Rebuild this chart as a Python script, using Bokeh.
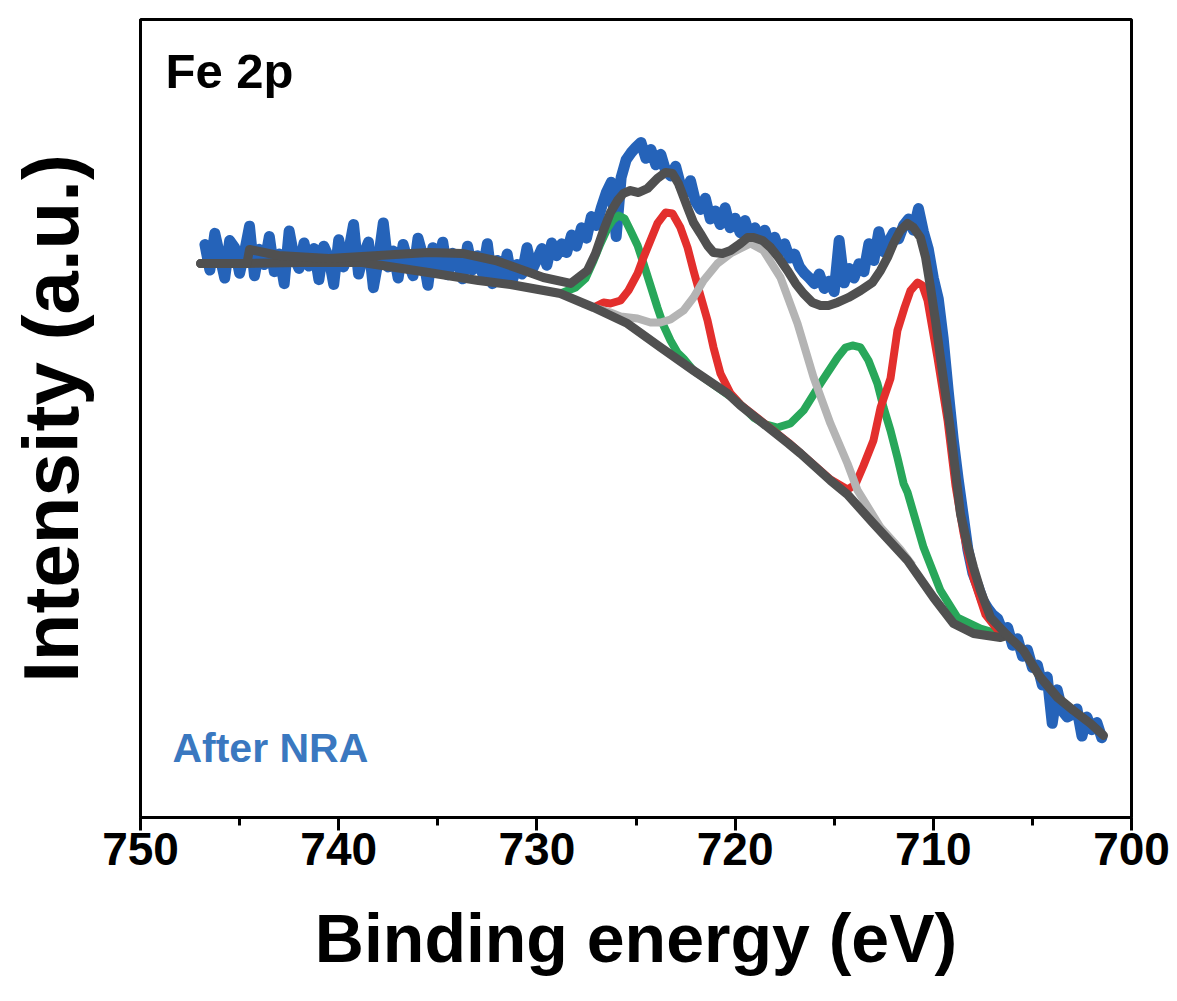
from bokeh.plotting import figure
from bokeh.models import Range1d, FixedTicker, Label
from bokeh.embed import file_html
from bokeh.resources import INLINE

# ---------------- data ----------------
# raw Fe 2p spectrum, sampled every 0.25 eV starting at 746.75 eV (descending)
raw_start = 746.75
raw_step = 0.25
raw_intensity = [
    71.8, 68.6, 73.2, 70.4,
    67.6, 72.3, 71.4, 68.2,
    70.9, 74.1, 67.9, 71.2,
    69.3, 72.8, 68.4, 70.6,
    66.9, 73.5, 70.2, 68.8,
    72.0, 69.1, 71.3, 67.4,
    71.6, 70.2, 66.8, 72.4,
    69.0, 70.9, 74.3, 68.1,
    70.5, 72.1, 66.4, 69.9,
    74.5, 69.0, 71.0, 67.6,
    71.8, 69.6, 67.9, 72.6,
    70.3, 66.7, 71.4, 69.1,
    72.1, 68.0, 70.7, 69.5,
    67.5, 71.6, 68.6, 70.4,
    68.2, 71.9, 66.9, 69.8,
    67.6, 70.6, 67.2, 69.3,
    68.1, 71.4, 68.6, 69.9,
    71.3, 69.2, 72.0, 70.4,
    71.9, 70.8, 73.0, 71.6,
    73.9, 72.6, 75.3, 74.2,
    76.4, 78.3, 79.6, 72.8,
    80.2, 82.4, 83.3, 84.0,
    84.6, 82.6, 83.7, 81.8,
    83.1, 81.0, 80.4, 81.6,
    79.2, 78.3, 79.8, 77.2,
    76.2, 77.6, 75.0, 76.0,
    74.3, 76.4, 73.9, 75.1,
    73.3, 74.8, 72.8, 73.9,
    72.3, 73.6, 71.5, 72.7,
    70.8, 71.9, 70.1, 70.6,
    69.0, 68.2, 67.6, 66.9,
    68.1, 66.3, 67.2, 65.9,
    72.3, 67.0, 68.8, 67.6,
    69.4, 68.4, 71.9, 69.8,
    73.4, 70.9, 72.2, 73.3,
    72.5, 74.2, 75.0, 73.6,
    76.3, 73.4, 71.2, 67.6,
    65.0, 60.0, 53.5, 47.5,
    42.5, 38.0, 33.5, 30.6,
    29.0, 27.2, 26.2, 25.4,
    24.9, 23.3, 23.8, 21.6,
    22.4, 20.2, 21.0, 18.8,
    19.1, 16.6, 17.6, 11.8,
    16.0, 13.4, 12.6, 12.9,
    13.6, 10.2, 12.6, 11.0,
    11.9, 10.0,
]
raw_energy = [raw_start - raw_step * i for i in range(len(raw_intensity))]

# fitted envelope
env_energy = [746.97, 744.63, 744.50, 743.04, 740.51, 737.99, 735.47, 733.75, 732.09,
              731.08, 729.67, 728.30, 727.45, 727.04, 726.64, 726.29, 725.93, 725.63,
              725.28, 724.87, 724.42, 723.92, 723.51, 723.16, 722.86, 722.40, 722.10,
              721.75, 721.39, 721.09, 720.64, 720.23, 719.73, 719.37, 719.07, 718.62,
              718.21, 717.81, 717.36, 716.95, 716.55, 716.10, 715.69, 715.29, 714.83,
              714.28, 713.67, 713.07, 712.66, 712.31, 712.01, 711.66, 711.30, 711.00,
              710.65, 710.39, 710.14, 709.89, 709.64, 709.13, 708.63, 708.27, 707.97,
              707.62, 707.11, 706.26, 705.45, 704.59, 703.73, 702.93, 702.07, 701.41]
env_intensity = [69.42, 69.42, 71.18, 70.43, 70.05, 70.43, 70.80, 70.68, 69.80,
                 68.92, 67.67, 66.92, 68.55, 70.68, 73.56, 75.81, 77.32, 78.20,
                 78.57, 78.32, 78.82, 80.08, 80.83, 80.70, 79.45, 76.44, 74.56,
                 73.18, 71.68, 70.80, 70.68, 71.05, 71.93, 72.68, 72.68, 72.31,
                 71.43, 70.18, 68.55, 66.92, 65.66, 64.54, 64.16, 64.16, 64.54,
                 65.16, 66.04, 67.04, 68.55, 70.18, 71.93, 73.56, 74.44, 73.93,
                 72.68, 70.18, 66.42, 62.28, 57.64, 48.50, 38.10, 34.09, 31.33,
                 28.45, 25.06, 22.81, 20.93, 17.54, 15.04, 13.41, 11.78, 10.28]

# Shirley background
bg_energy = [746.97, 744.70, 741.93, 738.80, 735.47, 732.95, 731.33, 728.81, 727.14,
             725.43, 723.76, 722.10, 720.38, 719.73, 717.31, 716.70, 715.19, 714.33,
             713.02, 711.30, 709.99, 708.98, 707.97, 706.61, 706.26]
bg_intensity = [69.42, 69.42, 69.55, 69.55, 68.30, 67.29, 66.79, 65.66, 63.91,
                61.90, 58.90, 56.02, 53.13, 51.63, 46.87, 45.61, 42.23, 40.48,
                36.84, 32.21, 27.57, 24.31, 23.06, 22.56, 22.81]

# satellite component (light gray)
sat_energy = [727.14, 726.29, 725.78, 724.92, 724.27, 723.76, 723.26, 722.60, 722.10,
              721.59, 720.89, 720.23, 719.73, 719.22, 718.57, 717.71, 716.85, 716.04,
              715.19, 714.33, 713.82, 712.66, 711.66, 711.05]
sat_intensity = [63.91, 63.28, 62.78, 62.53, 62.03, 62.03, 62.41, 63.53, 65.16,
                 67.29, 69.42, 70.68, 71.30, 71.93, 71.05, 67.67, 61.90, 55.14,
                 49.37, 44.36, 40.98, 36.34, 33.58, 31.58]

# Fe3+ component (green)
fe3_energy = [728.81, 728.05, 727.55, 727.14, 726.79, 726.44, 726.19, 725.88, 725.58,
              725.28, 724.92, 724.62, 724.27, 723.92, 723.61, 723.26, 722.91, 722.60,
              722.10, 720.38, 720.08, 719.07, 718.47, 717.86, 717.21, 716.55, 715.69,
              714.83, 714.43, 714.08, 713.67, 713.27, 712.82, 712.51, 712.16, 711.81,
              711.50, 711.30, 710.49, 709.64, 708.78, 707.62, 706.61]
fe3_intensity = [65.66, 66.42, 67.54, 69.80, 71.93, 73.81, 74.81, 75.44, 75.06,
                 73.56, 71.68, 69.42, 66.67, 63.91, 61.65, 59.77, 58.27, 57.52,
                 56.02, 53.00, 52.63, 50.13, 49.25, 48.87, 49.37, 51.00, 54.39,
                 57.64, 58.90, 59.15, 58.90, 57.27, 54.39, 51.38, 48.50, 45.11,
                 41.85, 40.73, 33.83, 28.45, 25.06, 23.68, 22.93]

# Fe2+ component (red)
fe2_energy = [727.14, 726.64, 726.29, 725.78, 725.38, 724.92, 724.62, 724.27, 723.92,
              723.51, 723.16, 722.76, 722.40, 722.10, 721.75, 721.39, 721.09, 720.74,
              720.23, 719.73, 717.31, 715.19, 714.33, 713.93, 713.52, 713.02, 712.66,
              712.16, 711.81, 711.45, 711.15, 710.80, 710.55, 710.29, 709.79, 709.28,
              708.88, 708.48, 707.97, 707.37, 706.61]
fe2_intensity = [63.91, 64.54, 64.41, 64.79, 66.04, 68.17, 70.18, 72.31, 74.44,
                 75.81, 75.69, 73.93, 71.43, 68.55, 65.41, 62.28, 58.90, 55.64,
                 53.13, 51.75, 46.99, 42.36, 41.10, 41.73, 44.11, 47.24, 51.38,
                 55.01, 61.03, 63.91, 66.04, 67.04, 66.67, 64.79, 57.64, 49.75,
                 41.60, 35.71, 29.95, 25.44, 23.06]

x_ticks = [700, 710, 720, 730, 740, 750]
x_minor_ticks = [705, 715, 725, 735, 745]

# ---------------- figure ----------------
FONT = "Liberation Sans"

p = figure(frame_width=991, frame_height=798,
           x_range=Range1d(750, 700), y_range=Range1d(0, 100),
           output_backend="svg", toolbar_location=None,
           min_border_left=140, min_border_right=46,
           min_border_top=19, min_border_bottom=176)

p.background_fill_color = "white"
p.border_fill_color = "white"
p.outline_line_color = "black"
p.outline_line_width = 3
p.xgrid.visible = False
p.ygrid.visible = False

# curves
p.line(raw_energy, raw_intensity, line_color="#2563b9", line_width=11, line_join="round", line_cap="round")
p.line(fe3_energy, fe3_intensity, line_color="#28a75a", line_width=8, line_join="round")
p.line(fe2_energy, fe2_intensity, line_color="#e32f2d", line_width=8, line_join="round")
p.line(sat_energy, sat_intensity, line_color="#b4b4b4", line_width=8, line_join="round")
p.line(bg_energy, bg_intensity, line_color="#505050", line_width=9, line_join="round", line_cap="round")
p.line(env_energy, env_intensity, line_color="#505050", line_width=9, line_join="round", line_cap="round")

# x axis
xa = p.xaxis[0]
xa.ticker = FixedTicker(ticks=x_ticks, minor_ticks=x_minor_ticks)
xa.axis_label = "Binding energy (eV)"
xa.axis_label_text_font = FONT
xa.axis_label_text_font_style = "bold"
xa.axis_label_text_font_size = "68px"
xa.axis_label_text_color = "black"
xa.axis_label_standoff = 32
xa.major_label_text_font = FONT
xa.major_label_text_font_style = "bold"
xa.major_label_text_font_size = "46px"
xa.major_label_text_color = "black"
xa.major_label_standoff = 2
xa.axis_line_width = 3
xa.axis_line_color = "black"
xa.major_tick_line_width = 3
xa.minor_tick_line_width = 3
xa.major_tick_line_color = "black"
xa.minor_tick_line_color = "black"
xa.major_tick_in = 0
xa.major_tick_out = 13
xa.minor_tick_in = 0
xa.minor_tick_out = 8

# y axis (no ticks, only title)
ya = p.yaxis[0]
ya.ticker = FixedTicker(ticks=[])
ya.major_label_text_font_size = "0px"
ya.axis_line_width = 3
ya.axis_line_color = "black"
ya.major_tick_line_color = None
ya.minor_tick_line_color = None
ya.axis_label = "Intensity (a.u.)"
ya.axis_label_text_font = FONT
ya.axis_label_text_font_style = "bold"
ya.axis_label_text_font_size = "78px"
ya.axis_label_text_color = "black"
ya.axis_label_standoff = 46

# annotations inside the frame
p.add_layout(Label(x=748.74, y=93.6, text="Fe 2p", text_font=FONT, text_font_style="bold",
                   text_font_size="49px", text_color="black", text_baseline="alphabetic"))
p.add_layout(Label(x=748.39, y=8.7, text="After NRA", text_font=FONT, text_font_style="bold",
                   text_font_size="41px", text_color="#3a78c0", text_baseline="alphabetic"))

open("out.html", "w").write(file_html(p, INLINE))
